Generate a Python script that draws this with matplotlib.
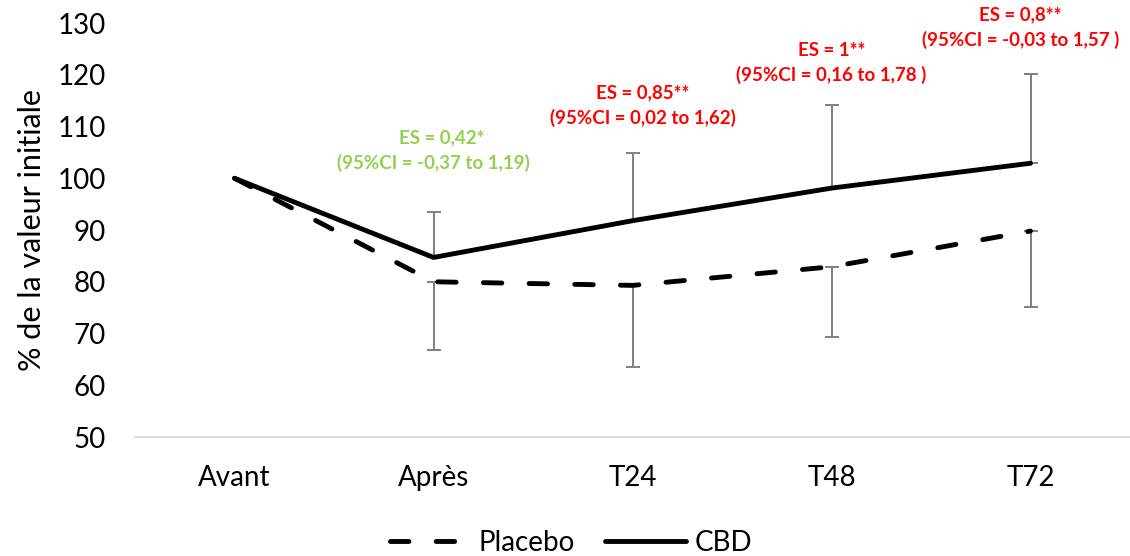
import matplotlib.pyplot as plt
import numpy as np

plt.rcParams['font.family'] = ['Lato', 'DejaVu Sans']

categories = ['Avant', 'Après', 'T24', 'T48', 'T72']
cbd = [100, 84.7, 91.8, 98.1, 102.9]
placebo = [100, 80.0, 79.3, 82.9, 89.8]
cbd_upper = [100, 93.5, 104.8, 114.1, 120.1]
placebo_lower = [100, 66.9, 63.6, 69.3, 75.2]

es_texts = ['', 'ES = 0,42*', 'ES = 0,85**', 'ES = 1**', 'ES = 0,8**']
ci_texts = ['', '(95%CI = -0,37 to 1,19)', '(95%CI = 0,02 to 1,62)',
            '(95%CI = 0,16 to 1,78 )', '(95%CI = -0,03 to 1,57 )']
es_colors = ['', '#92D050', '#FF0000', '#FF0000', '#FF0000']
es_y = [0, 138, 93, 50, 15]  # pixel rows of the ES line (from top)
es_dx = [0, 0.04, 0.05, 0, -0.05]

fig = plt.figure(figsize=(11.3, 5.56), dpi=100)
ax = fig.add_axes([0.1195, 0.214, 0.8805, 0.7446])

x = np.arange(len(categories))
cbd = np.array(cbd)
placebo = np.array(placebo)

ax.errorbar(x[1:], cbd[1:], yerr=[np.zeros(4), (np.array(cbd_upper) - cbd)[1:]],
            fmt='none', ecolor='#7f7f7f', elinewidth=1.4, capsize=5, capthick=1.4, zorder=2)
ax.errorbar(x[1:], placebo[1:], yerr=[(placebo - np.array(placebo_lower))[1:], np.zeros(4)],
            fmt='none', ecolor='#7f7f7f', elinewidth=1.4, capsize=5, capthick=1.4, zorder=2)

ax.plot(x, placebo, color='black', lw=3.5, dashes=(3.8, 5.6), dash_capstyle='round',
        label='Placebo', zorder=3)
ax.plot(x, cbd, color='black', lw=3.5, solid_capstyle='round', label='CBD', zorder=3)

ax.set_xlim(-0.5, 4.5)
ax.set_ylim(50, 130)
ax.set_yticks(range(50, 131, 10))
ax.set_xticks(x)
ax.set_xticklabels(categories)
ax.tick_params(axis='both', length=0, labelsize=20)
ax.tick_params(axis='x', pad=20)
ax.tick_params(axis='y', pad=21)
for s in ['top', 'right', 'left']:
    ax.spines[s].set_visible(False)
ax.spines['bottom'].set_color('#d9d9d9')
ax.spines['bottom'].set_linewidth(1.3)
ax.set_ylabel('% de la valeur initiale', fontsize=22, labelpad=8)

for i in range(1, 5):
    yv = 50 + (437 - es_y[i]) / 5.175
    yc = 50 + (437 - es_y[i] - 25) / 5.175
    ax.text(i + es_dx[i], yv, es_texts[i], color=es_colors[i], fontsize=13.5,
            fontweight='bold', ha='center', va='center', clip_on=False)
    ax.text(i + es_dx[i] - (0.04 if i == 1 else 0), yc, ci_texts[i], color=es_colors[i],
            fontsize=13.5, fontweight='bold', ha='center', va='center', clip_on=False)

leg = fig.legend(loc='lower center', bbox_to_anchor=(0.505, -0.045), ncol=2, frameon=False,
                 fontsize=20, handlelength=2.9, columnspacing=1.1, handletextpad=0.3)

fig.savefig('out.png', dpi=100)
